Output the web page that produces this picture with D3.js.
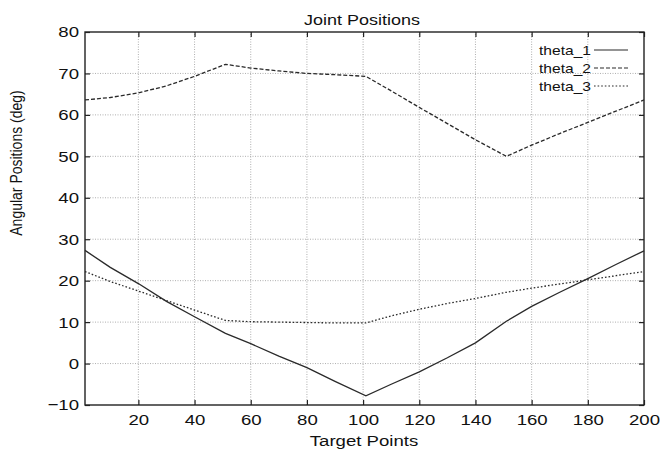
<!DOCTYPE html>
<html>
<head>
<meta charset="utf-8">
<script src="https://cdn.jsdelivr.net/npm/d3@7"></script>
<style>
  html, body { margin: 0; padding: 0; background: #fff; }
  svg { display: block; }
  text { font-family: "Liberation Sans", Arial, Helvetica, sans-serif; fill: #111; }
</style>
</head>
<body>
<svg id="chart" width="672" height="456"></svg>
<script>
// Sample target points along the trajectory
const targetPoints = [1, 10, 20, 30, 40, 51, 60, 70, 80, 90, 101, 110, 120, 130, 140, 151, 160, 170, 180, 190, 200];

// Joint angles in degrees at each target point
const theta1 = [27.3, 23.2, 19.3, 15.0, 11.3, 7.3, 4.8, 1.8, -1.0, -4.3, -7.8, -5.0, -2.0, 1.4, 5.0, 10.2, 13.8, 17.2, 20.5, 23.9, 27.2];
const theta2 = [63.6, 64.2, 65.3, 67.0, 69.3, 72.2, 71.3, 70.6, 70.0, 69.7, 69.3, 65.8, 61.8, 57.9, 54.0, 50.0, 52.7, 55.5, 58.2, 60.9, 63.6];
const theta3 = [22.2, 19.8, 17.5, 15.2, 12.9, 10.4, 10.1, 10.0, 9.9, 9.8, 9.8, 11.5, 13.1, 14.5, 15.7, 17.2, 18.2, 19.2, 20.2, 21.2, 22.2];

const seriesNames = ["theta_1", "theta_2", "theta_3"];
const xTicks = [20, 40, 60, 80, 100, 120, 140, 160, 180, 200];
const yTicks = [-10, 0, 10, 20, 30, 40, 50, 60, 70, 80];

const titleText = "Joint Positions";
const xLabel = "Target Points";
const yLabel = "Angular Positions (deg)";

const svg = d3.select("#chart");
const margin = { left: 85, top: 32, right: 28, bottom: 51 };
const W = 672, H = 456;
const innerW = W - margin.left - margin.right;
const innerH = H - margin.top - margin.bottom;

// Lettering is drawn slightly wide
const widen = 1.2;

const x = d3.scaleLinear().domain([1, 200]).range([margin.left, margin.left + innerW]);
const y = d3.scaleLinear().domain([-10, 80]).range([margin.top + innerH, margin.top]);

const fmt = v => (v < 0 ? "\u2212" + Math.abs(v) : String(v));

// Dotted grid
const grid = svg.append("g");
grid.selectAll("line.gx").data(xTicks.filter(t => t < 200)).join("line")
  .attr("x1", d => x(d)).attr("x2", d => x(d))
  .attr("y1", y(-10)).attr("y2", y(80))
  .attr("stroke", "#9a9a9a").attr("stroke-width", 0.8).attr("stroke-dasharray", "1,1.5");
grid.selectAll("line.gy").data(yTicks.filter(t => t > -10 && t < 80)).join("line")
  .attr("x1", x(1)).attr("x2", x(200))
  .attr("y1", d => y(d)).attr("y2", d => y(d))
  .attr("stroke", "#9a9a9a").attr("stroke-width", 0.8).attr("stroke-dasharray", "1,1.5");

// Axes with inward ticks on all four sides
const tickLen = 5;
const axisBottom = svg.append("g").attr("transform", `translate(0,${y(-10)})`)
  .call(d3.axisBottom(x).tickValues(xTicks).tickSize(-tickLen).tickPadding(9).tickFormat(fmt));
const axisTop = svg.append("g").attr("transform", `translate(0,${y(80)})`)
  .call(d3.axisTop(x).tickValues(xTicks).tickSize(-tickLen).tickFormat(""));
const axisLeft = svg.append("g").attr("transform", `translate(${x(1)},0)`)
  .call(d3.axisLeft(y).tickValues(yTicks).tickSize(-tickLen).tickPadding(5).tickFormat(fmt));
const axisRight = svg.append("g").attr("transform", `translate(${x(200)},0)`)
  .call(d3.axisRight(y).tickValues(yTicks).tickSize(-tickLen).tickFormat(""));

[axisBottom, axisTop, axisLeft, axisRight].forEach(g => {
  g.select(".domain").remove();
  g.selectAll(".tick line").attr("stroke", "#222").attr("stroke-width", 1.2);
  g.selectAll(".tick text").attr("font-size", 15.5).attr("fill", "#111")
    .attr("font-family", "'Liberation Sans', Arial, sans-serif")
    .attr("transform", `scale(${widen},1)`);
});

// Frame
svg.append("rect")
  .attr("x", x(1)).attr("y", y(80))
  .attr("width", x(200) - x(1)).attr("height", y(-10) - y(80))
  .attr("fill", "none").attr("stroke", "#222").attr("stroke-width", 1.4);

// Series lines
const series = [
  { name: seriesNames[0], values: theta1, dash: null },
  { name: seriesNames[1], values: theta2, dash: "4,2" },
  { name: seriesNames[2], values: theta3, dash: "1.6,2" }
];

const line = d3.line().x(d => x(d[0])).y(d => y(d[1]));

svg.append("g").selectAll("path").data(series).join("path")
  .attr("d", s => line(targetPoints.map((t, i) => [t, s.values[i]])))
  .attr("fill", "none")
  .attr("stroke", "#2a2a2a")
  .attr("stroke-width", 1.3)
  .attr("stroke-dasharray", s => s.dash);

// Helper: widened text anchored at (px, py)
function label(px, py, str, size, anchor, rotate) {
  return svg.append("text")
    .attr("transform", `translate(${px},${py}) scale(${widen},1)` + (rotate ? ` rotate(${rotate})` : ""))
    .attr("text-anchor", anchor).attr("font-size", size).text(str);
}

// Legend
series.forEach((s, i) => {
  const ly = 50 + i * 18;
  label(591, ly, s.name, 13, "end").attr("dy", "0.35em");
  svg.append("line")
    .attr("x1", 594).attr("x2", 628).attr("y1", ly).attr("y2", ly)
    .attr("stroke", "#2a2a2a").attr("stroke-width", 1.2)
    .attr("stroke-dasharray", s.dash);
});

// Title and axis labels
label(362, 25, titleText, 15, "middle");
label(364, 446, xLabel, 15.5, "middle");
label(22, 163, yLabel, 14, "middle", -90);
</script>
</body>
</html>
